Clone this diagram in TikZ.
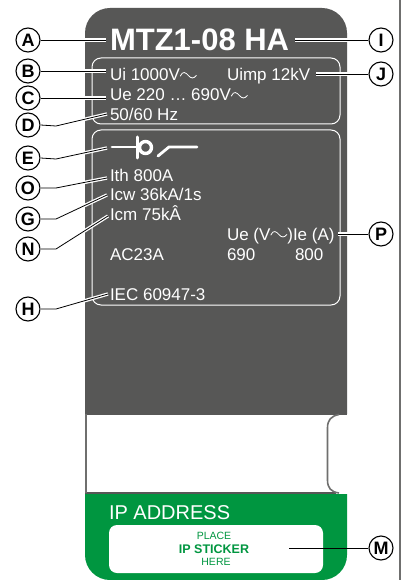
\documentclass[tikz,border=0pt]{standalone}
\usepackage{fontspec}
\setmainfont{Liberation Sans}
\definecolor{plate}{HTML}{575756}
\definecolor{ipgreen}{HTML}{009640}
\definecolor{edge}{HTML}{6F6F6E}
\newcommand{\acsign}{\tikz[baseline=0pt,x=1pt,y=1pt]\draw[white,line width=0.8pt,line cap=round] (0,5) .. controls (2.5,10.5) and (5.5,8.5) .. (8,5.5) .. controls (11,2) and (13.5,2.5) .. (16,5.5);}
\tikzset{
 x=1pt,y=-1pt,
 callout/.style={circle,draw=black,line width=1.1pt,fill=white,minimum size=24pt,inner sep=0pt,font=\bfseries\fontsize{18}{18}\selectfont},
 lbl/.style={anchor=base west,inner sep=0pt,outer sep=0pt,text=white,font=\fontsize{17}{17}\selectfont},
 leader/.style={black,line width=0.8pt,preaction={draw=white,line width=3.4pt}},
 frameline/.style={draw=white,line width=1pt,rounded corners=9pt},
}
\begin{document}
\begin{tikzpicture}
\useasboundingbox (0,0) rectangle (402,580);
\fill[white] (0,0) rectangle (402,580);
\draw[edge,line width=2pt] (400,0) -- (400,580);
% label body
\fill[plate] (85,414) [rounded corners=25pt] -- (85,8) -- (347,8) [sharp corners] -- (347,414) -- cycle;
\fill[ipgreen] (85,494) [rounded corners=25pt] -- (85,580) -- (347,580) [sharp corners] -- (347,494) -- cycle;
\draw[plate,line width=2pt] (85,414) -- (347,414);
\draw[plate,line width=2pt] (85,493) -- (336,493);
\draw[edge,line width=1.8pt] (86,414) -- (86,493);
\draw[edge,line width=1.6pt] (339,414.5) .. controls (331,416) and (327.5,420) .. (327.5,428) -- (327.5,480) .. controls (327.5,488) and (331,492) .. (339,493);
% frames
\draw[frameline] (92,58) rectangle (340,124);
\draw[frameline] (92,130) rectangle (340,305);
\fill[white,rounded corners=8pt] (109,525) rectangle (323,573);
% texts
\node[lbl,font=\bfseries\fontsize{31}{31}\selectfont] (title) at (110,51) {MTZ1-08 HA};
\node[lbl] (ui) at (110,81) {Ui 1000V\acsign};
\node[lbl] (uimp) at (227,81) {Uimp 12kV};
\node[lbl] (ue) at (110,101) {Ue 220 … 690V\acsign};
\node[lbl] (hz) at (110,121) {50/60 Hz};
\node[lbl] (ith) at (110,181) {Ith 800A};
\node[lbl] (icw) at (110,200) {Icw 36kA/1s};
\node[lbl] (icm) at (110,220.5) {Icm 75kÂ};
\node[lbl] (uehead) at (227,240) {Ue (V\acsign)};
\node[lbl] (iehead) at (293,240) {Ie (A)};
\node[lbl] (ac) at (110,260) {AC23A};
\node[lbl] (v690) at (227,260) {690};
\node[lbl] (a800) at (295,260) {800};
\node[lbl] (iec) at (110,300) {IEC 60947-3};
\node[lbl,font=\fontsize{20}{20}\selectfont] (ip) at (109,519) {IP ADDRESS};
\node[text=ipgreen,inner sep=0pt,font=\fontsize{10.5}{10.5}\selectfont] (place) at (214,536) {PLACE};
\node[text=ipgreen,inner sep=0pt,font=\bfseries\fontsize{12.5}{12.5}\selectfont] (sticker) at (214,549) {IP STICKER};
\node[text=ipgreen,inner sep=0pt,font=\fontsize{10.5}{10.5}\selectfont] (here) at (216,562) {HERE};
% breaker symbol
\coordinate (sym) at (109,147);
\draw[white,line width=2.8pt,line cap=round] (sym) ++(3,0) -- (137,147);
\draw[white,line width=3pt,line cap=round] (137.5,137) -- (137.5,158);
\draw[white,line width=3.4pt] (145.5,147.5) circle (6pt);
\draw[white,line width=2.8pt,line cap=round] (158,156) -- (169,147) -- (197,147);
% callouts
\node[callout] (A) at (28,40) {A};
\node[callout] (B) at (28,71) {B};
\node[callout] (C) at (28,98) {C};
\node[callout] (D) at (28,125) {D};
\node[callout] (E) at (28,158) {E};
\node[callout] (O) at (28,188) {O};
\node[callout] (G) at (28,219) {G};
\node[callout] (N) at (28,249) {N};
\node[callout] (H) at (28,309) {H};
\node[callout] (I) at (381,40) {I};
\node[callout] (J) at (381,74) {J};
\node[callout] (P) at (381,234) {P};
\node[callout] (M) at (381,548) {M};
\coordinate (stickerend) at (289,548);
\coordinate (ttl) at (106,40);
\coordinate (ttr) at (295,40);
\coordinate (uiend) at (106,71);
\coordinate (ueend) at (106,98);
\coordinate (hzend) at (107,114);
\coordinate (symend) at (107,148);
\coordinate (ithend) at (107,178);
\coordinate (icwend) at (107,195);
\coordinate (icmend) at (108,216);
\coordinate (iecend) at (108,294);
\coordinate (uimpend) at (316,74);
\coordinate (ieend) at (338,234);
\draw[leader] (A) -- (ttl);
\draw[leader] (B) -- (uiend);
\draw[leader] (C) -- (ueend);
\draw[leader] (D.east) -- (56,126) -- (hzend);
\draw[leader] (E.east) -- (56,159) -- (symend);
\draw[leader] (O.east) -- (56,188) -- (ithend);
\draw[leader] (G.east) -- (56,219) -- (icwend);
\draw[leader] (N.east) -- (56,249) -- (icmend);
\draw[leader] (H.east) -- (56,309) -- (iecend);
\draw[leader] (I) -- (ttr);
\draw[leader] (J) -- (uimpend);
\draw[leader] (P) -- (ieend);
\draw[black,line width=0.8pt] (M) -- (stickerend);
\end{tikzpicture}
\end{document}
